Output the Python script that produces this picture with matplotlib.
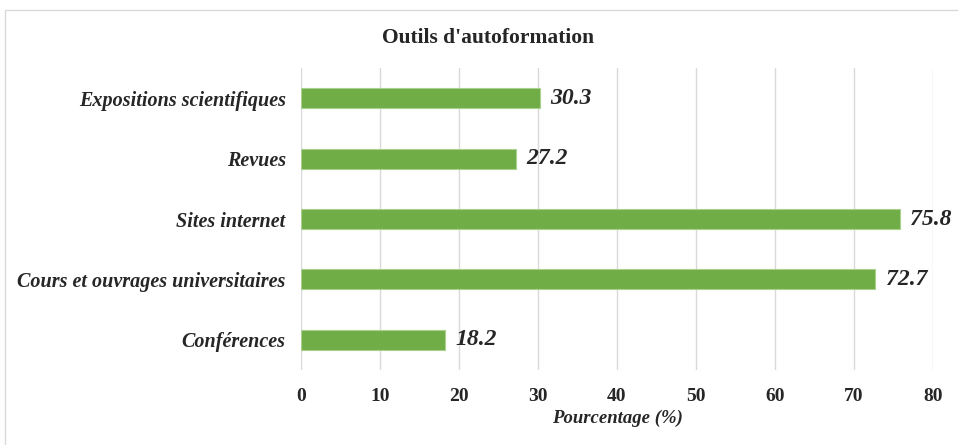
import matplotlib.pyplot as plt
from matplotlib.patches import Rectangle

# data (bottom to top as drawn)
categories = ["Conférences", "Cours et ouvrages universitaires", "Sites internet",
              "Revues", "Expositions scientifiques"]
values = [18.2, 72.7, 75.8, 27.2, 30.3]
xticks = [0, 10, 20, 30, 40, 50, 60, 70, 80]

plt.rcParams['font.family'] = ['Liberation Serif', 'DejaVu Serif']

fig = plt.figure(figsize=(9.58, 4.45), dpi=100)
ax = fig.add_axes([0.3142, 0.1685, 0.6597, 0.6785])

# light frame around the chart
fig.patches.append(Rectangle((5 / 958, -0.1), 1.2, 1.1 - 10 / 445,
                             transform=fig.transFigure, fill=False,
                             edgecolor='#d9d9d9', linewidth=1))

ypos = range(len(categories))
ax.barh(ypos, values, height=0.33, color='#70AD47', edgecolor='#a9d18e',
        linewidth=0.8, zorder=3)

for y, v in zip(ypos, values):
    ax.text(v + 1.3, y, f"{v:.1f}", va='center', ha='left', fontsize=17,
            fontweight='bold', fontstyle='italic', color='#262626')

ax.set_xlim(0, 80)
ax.set_ylim(-0.5, 4.5)
ax.set_xticks(xticks)
ax.set_yticks(list(ypos))
ax.set_yticklabels(categories, fontsize=14.5, fontweight='bold', fontstyle='italic')
for lbl in ax.get_xticklabels():
    lbl.set_fontsize(14)
    lbl.set_fontweight('bold')
ax.tick_params(axis='both', length=0, colors='#262626')
ax.tick_params(axis='x', pad=13)
ax.tick_params(axis='y', pad=11)
ax.grid(axis='x', color='#d9d9d9', linewidth=1, zorder=0)
for s in ax.spines.values():
    s.set_visible(False)

ax.set_xlabel("Pourcentage (%)", fontsize=13.5, fontweight='bold',
              fontstyle='italic', labelpad=3, color='#262626')
fig.text(488 / 958, 1 - 38 / 445, "Outils d'autoformation", ha='center',
         va='center', fontsize=15.5, fontweight='bold', color='#262626')

plt.savefig("out.png", dpi=100)
